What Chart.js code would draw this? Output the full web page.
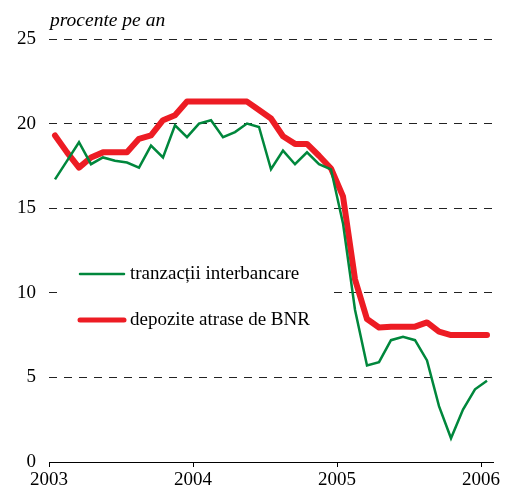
<!DOCTYPE html>
<html>
<head>
<meta charset="utf-8">
<script src="https://cdn.jsdelivr.net/npm/chart.js@4/dist/chart.umd.min.js"></script>
<style>
  body { margin: 0; background: #fff; }
  canvas { display: block; }
</style>
</head>
<body>
<canvas id="rateChart" width="509" height="495"></canvas>
<script>
// Monthly values, Jan 2003 .. Jan 2006
const yearLabels = ['2003', '2004', '2005', '2006'];
const yTicks = [0, 5, 10, 15, 20, 25];
const interbancare = [16.7, 17.8, 18.9, 17.6, 18.0, 17.8, 17.7, 17.4, 18.7, 18.0, 19.9, 19.2,
  20.0, 20.2, 19.2, 19.5, 20.0, 19.8, 17.3, 18.4, 17.6, 18.3, 17.6, 17.3,
  14.1, 9.0, 5.7, 5.9, 7.2, 7.4, 7.2, 6.0, 3.3, 1.4, 3.1, 4.3, 4.8];
const depozite = [19.3, 18.3, 17.4, 18.0, 18.3, 18.3, 18.3, 19.1, 19.3, 20.2, 20.5, 21.3,
  21.3, 21.3, 21.3, 21.3, 21.3, 20.8, 20.3, 19.25, 18.8, 18.8, 18.1, 17.35,
  15.7, 10.8, 8.45, 7.95, 8.0, 8.0, 8.0, 8.25, 7.7, 7.5, 7.5, 7.5, 7.5];

const GREEN = '#00873C';
const RED = '#ED1C24';
const FONT = '"Liberation Serif", "Times New Roman", serif';

// points sit in the middle of each month
const toPoints = (arr) => arr.map((v, i) => ({ x: i + 0.5, y: v }));

// title above the axis
const titlePlugin = {
  id: 'unitTitle',
  afterDraw(chart) {
    const ctx = chart.ctx;
    ctx.save();
    ctx.font = 'italic 19.5px ' + FONT;
    ctx.fillStyle = '#000';
    ctx.textBaseline = 'alphabetic';
    ctx.fillText('procente pe an', 50, 26);
    ctx.restore();
  }
};

// legend box inside the plot, white background hides the grid
const boxLegend = {
  id: 'boxLegend',
  afterDatasetsDraw(chart) {
    const ctx = chart.ctx;
    ctx.save();
    ctx.fillStyle = '#fff';
    ctx.fillRect(57, 252, 272, 86);
    const rows = [
      { y: 274, width: 2.5 },
      { y: 320, width: 5 }
    ];
    chart.data.datasets.forEach((ds, i) => {
      ctx.strokeStyle = ds.borderColor;
      ctx.lineWidth = rows[i].width;
      ctx.lineCap = 'round';
      ctx.beginPath();
      ctx.moveTo(80, rows[i].y);
      ctx.lineTo(124, rows[i].y);
      ctx.stroke();
      ctx.fillStyle = '#000';
      ctx.font = '19px ' + FONT;
      ctx.textBaseline = 'middle';
      ctx.fillText(ds.label, 130, rows[i].y);
    });
    ctx.restore();
  }
};

const ctxRates = document.getElementById('rateChart').getContext('2d');
new Chart(ctxRates, {
  type: 'line',
  data: {
    datasets: [{
      label: 'tranzacții interbancare',
      data: toPoints(interbancare),
      borderColor: GREEN,
      borderWidth: 2.5,
      pointRadius: 0,
      tension: 0
    }, {
      label: 'depozite atrase de BNR',
      data: toPoints(depozite),
      borderColor: RED,
      borderWidth: 6,
      pointRadius: 0,
      tension: 0,
      borderJoinStyle: 'round',
      borderCapStyle: 'round'
    }]
  },
  options: {
    responsive: false,
    animation: false,
    devicePixelRatio: 1,
    layout: { padding: { top: 39, right: 16, left: 0, bottom: 0 } },
    plugins: {
      legend: { display: false },
      tooltip: { enabled: false }
    },
    scales: {
      x: {
        type: 'linear',
        min: 0,
        max: 37,
        afterBuildTicks: (scale) => {
          scale.ticks = yearLabels.map((_, i) => ({ value: i * 12 }));
        },
        afterFit: (scale) => { scale.height = 33; },
        ticks: {
          callback: (value) => yearLabels[Math.round(value / 12)],
          color: '#000',
          font: { family: FONT, size: 19 },
          padding: 2,
          maxRotation: 0
        },
        grid: {
          drawOnChartArea: false,
          drawTicks: true,
          tickLength: 5,
          color: '#000'
        },
        border: { display: true, color: '#000', width: 1 }
      },
      y: {
        min: 0,
        max: 25,
        afterBuildTicks: (scale) => {
          scale.ticks = yTicks.map((v) => ({ value: v }));
        },
        afterFit: (scale) => { scale.width = 49; },
        ticks: {
          color: '#000',
          font: { family: FONT, size: 19 },
          padding: 13
        },
        grid: {
          drawTicks: false,
          color: (c) => (c.tick && c.tick.value === 0 ? 'rgba(0,0,0,0)' : '#222'),
          lineWidth: 1
        },
        border: { display: false, dash: [8, 7] }
      }
    }
  },
  plugins: [titlePlugin, boxLegend]
});
</script>
</body>
</html>
